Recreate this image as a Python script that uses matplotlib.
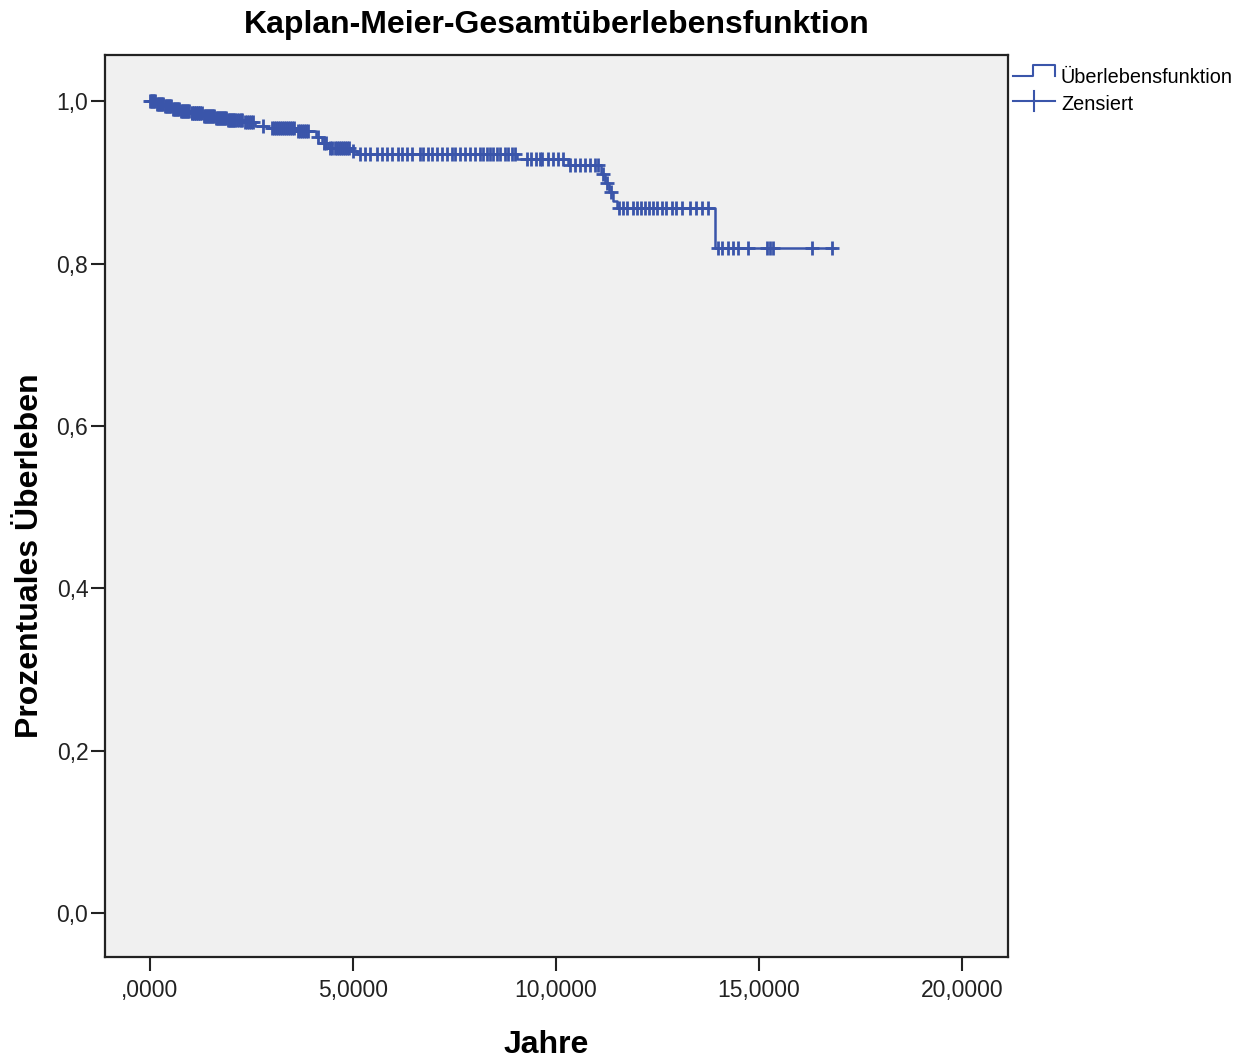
import numpy as np
import matplotlib
matplotlib.use('Agg')
import matplotlib.pyplot as plt
from matplotlib.lines import Line2D

plt.rcParams['font.family'] = ['Liberation Sans', 'DejaVu Sans']

# event times (Jahre) and survival after each event
event_t = [0.15, 0.35, 0.55, 0.75, 1.0, 1.3, 1.6, 1.9, 2.3, 2.6, 2.9, 3.6,
           4.1, 4.25, 4.4, 4.95, 5.1, 9.05, 10.3, 11.1, 11.2, 11.3, 11.4,
           11.5, 13.92]
event_s = [0.997, 0.994, 0.991, 0.988, 0.985, 0.982, 0.979, 0.977, 0.974,
           0.970, 0.967, 0.963, 0.956, 0.948, 0.943, 0.939, 0.935, 0.929,
           0.922, 0.910, 0.899, 0.888, 0.877, 0.868, 0.819]

# censored observations
cens_t = [0.0, 0.03, 0.05, 0.08, 0.1, 0.12, 0.17, 0.2, 0.22, 0.25, 0.28,
          0.3, 0.33, 0.38, 0.4, 0.43, 0.45, 0.48, 0.5, 0.53, 0.58, 0.6,
          0.63, 0.65, 0.68, 0.7, 0.73, 0.78, 0.8, 0.83, 0.85, 0.88, 0.9,
          0.93, 0.95, 0.98, 1.03, 1.05, 1.08, 1.1, 1.13, 1.15, 1.18, 1.2,
          1.23, 1.25, 1.28, 1.33, 1.35, 1.38, 1.4, 1.43, 1.45, 1.48, 1.5,
          1.53, 1.55, 1.58, 1.63, 1.65, 1.68, 1.7, 1.73, 1.75, 1.78, 1.8,
          1.83, 1.85, 1.88, 1.93, 1.95, 1.98, 2.0, 2.03, 2.05, 2.08, 2.1,
          2.15, 2.2, 2.25, 2.28, 2.35, 2.4, 2.45, 2.5, 2.55,
          2.8, 3.0, 3.05, 3.1, 3.15, 3.2, 3.25, 3.3, 3.35, 3.4, 3.45, 3.5,
          3.55, 3.65, 3.7, 3.75, 3.8, 3.85, 3.9, 4.15, 4.3, 4.35, 4.45,
          4.5, 4.55, 4.6, 4.65, 4.7, 4.75, 4.8, 4.85, 4.9, 5.0,
          5.17, 5.30, 5.42, 5.59, 5.71, 5.84, 5.96, 6.11, 6.21, 6.33, 6.45,
          6.65, 6.72, 6.85, 6.95, 7.07, 7.19, 7.32, 7.44, 7.51, 7.64, 7.76,
          7.88, 8.0, 8.13, 8.2, 8.3, 8.37, 8.45, 8.55, 8.62, 8.74, 8.82,
          8.92, 8.99,
          9.3, 9.38, 9.5, 9.6, 9.67, 9.8, 9.92, 10.05, 10.17,
          10.35, 10.47, 10.6, 10.72, 10.84, 10.96, 11.04,
          11.15, 11.25, 11.35,
          11.55, 11.65, 11.75, 11.9, 12.0, 12.1, 12.2, 12.3, 12.4, 12.5,
          12.6, 12.7, 12.85, 12.95, 13.1, 13.3, 13.45, 13.6, 13.75,
          13.99, 14.09, 14.24, 14.36, 14.48, 14.73, 15.2, 15.27, 15.35,
          16.3, 16.8]
end_t = 16.87

xticks = [0, 5, 10, 15, 20]
xtick_labels = [',0000', '5,0000', '10,0000', '15,0000', '20,0000']
yticks = [0.0, 0.2, 0.4, 0.6, 0.8, 1.0]
ytick_labels = ['0,0', '0,2', '0,4', '0,6', '0,8', '1,0']

blue = '#3A55AA'

W, H = 1245, 1061
fig = plt.figure(figsize=(W / 100, H / 100), dpi=100)
ax = fig.add_axes([105 / W, 1 - 957 / H, (1008 - 105) / W, (957 - 55) / H])
ax.set_facecolor('#F0F0F0')

# KM step curve
sx = [0.0] + event_t + [end_t]
sy = [1.0] + event_s + [event_s[-1]]
ax.step(sx, sy, where='post', color=blue, lw=1.8)

# censor marks on the curve
idx = np.searchsorted(np.array(event_t), np.array(cens_t), side='right')
all_s = np.array([1.0] + event_s)
ax.plot(cens_t, all_s[idx], ls='none', marker='+', ms=10, mew=2.0, color=blue)

ax.set_xlim(-1.1, 21.13)
ax.set_ylim(-0.054, 1.057)
ax.set_xticks(xticks)
ax.set_xticklabels(xtick_labels)
ax.set_yticks(yticks)
ax.set_yticklabels(ytick_labels)
ax.tick_params(axis='both', length=10, width=1.5, colors='#222222',
               labelsize=16.5, labelcolor='#222222')
ax.tick_params(axis='y', pad=2)
ax.tick_params(axis='x', pad=6)
for sp in ax.spines.values():
    sp.set_linewidth(1.6)
    sp.set_color('#222222')

ax.set_title('Kaplan-Meier-Gesamtüberlebensfunktion', fontsize=23,
             fontweight='bold', pad=16)
ax.set_xlabel('Jahre', fontsize=23, fontweight='bold')
ax.xaxis.label.set_va('center')
ax.xaxis.set_label_coords((546 - 105) / 903, (957 - 1045) / 902)
ax.set_ylabel('Prozentuales Überleben', fontsize=23, fontweight='bold')
ax.yaxis.label.set_va('center')
ax.yaxis.set_label_coords((30 - 105) / 903, (957 - 556) / 902)

# legend drawn outside the plot (figure pixels)
def fx(p):
    return p / W

def fy(p):
    return 1 - p / H

fig.add_artist(Line2D([fx(1013), fx(1033), fx(1033), fx(1055), fx(1055)],
                      [fy(76), fy(76), fy(65), fy(65), fy(76)],
                      color=blue, lw=1.5, transform=fig.transFigure))
fig.add_artist(Line2D([fx(1013), fx(1055)], [fy(101), fy(101)],
                      color=blue, lw=1.5, transform=fig.transFigure))
fig.add_artist(Line2D([fx(1034), fx(1034)], [fy(91), fy(111)],
                      color=blue, lw=1.5, transform=fig.transFigure))
fig.text(fx(1061), fy(77), 'Überlebensfunktion', fontsize=14.3, va='center')
fig.text(fx(1061), fy(104), 'Zensiert', fontsize=14.3, va='center')

fig.savefig('out.png', dpi=100, facecolor='white')
